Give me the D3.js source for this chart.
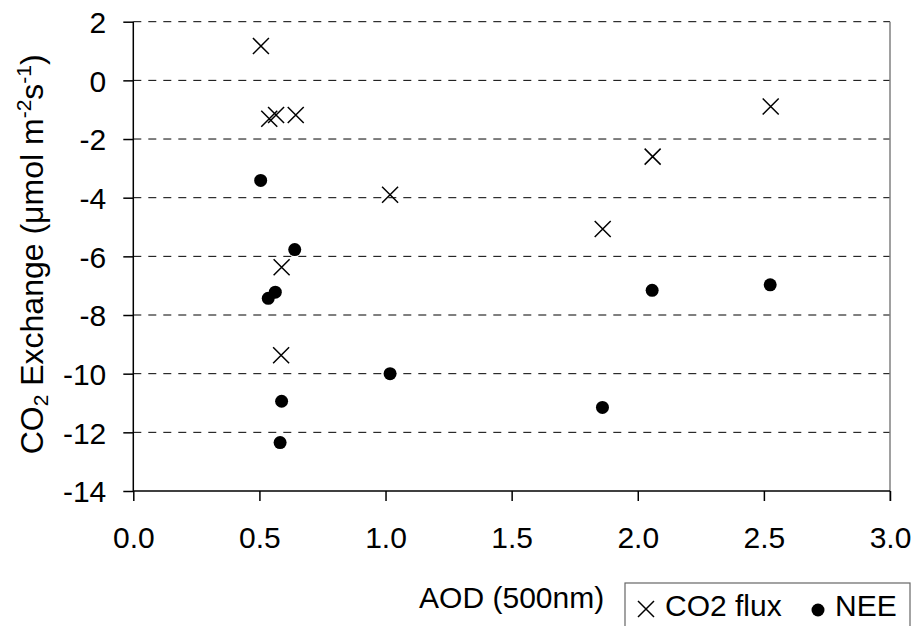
<!DOCTYPE html>
<html>
<head>
<meta charset="utf-8">
<script src="https://cdn.jsdelivr.net/npm/d3@7"></script>
<style>
  body { margin: 0; background: #fff; }
  svg text { font-family: "Liberation Sans", Arial, sans-serif; fill: #000; }
</style>
</head>
<body>
<svg id="chart" width="915" height="626"></svg>
<script>
// values
var aodFlux = [0.506, 0.539, 0.566, 0.644, 0.588, 0.586, 1.018, 1.861, 2.059, 2.527];
var co2Flux = [1.17, -1.31, -1.18, -1.18, -6.37, -9.37, -3.9, -5.07, -2.6, -0.89];

var aodNee = [0.505, 0.64, 0.563, 0.535, 0.588, 0.582, 1.018, 1.86, 2.057, 2.525];
var nee    = [-3.41, -5.77, -7.22, -7.43, -10.94, -12.35, -10.0, -11.15, -7.16, -6.97];

var xTicks = [0, 0.5, 1, 1.5, 2, 2.5, 3];
var yTicks = [2, 0, -2, -4, -6, -8, -10, -12, -14];

var margin = {left: 133.3, top: 21.7, right: 890, bottom: 491};

var svg = d3.select('#chart');

var x = d3.scaleLinear().domain([0, 3]).range([margin.left, margin.right]);
var y = d3.scaleLinear().domain([-14, 2]).range([margin.bottom, margin.top]);

// dashed grid lines
svg.append('g').selectAll('line').data(yTicks.filter(function(d) { return d > -14; }))
  .enter().append('line')
  .attr('x1', margin.left).attr('x2', margin.right)
  .attr('y1', function(d) { return y(d); })
  .attr('y2', function(d) { return y(d); })
  .style('stroke', '#000')
  .style('stroke-width', 1)
  .style('stroke-dasharray', '8,7');

// right border of plot area
svg.append('line')
  .attr('x1', margin.right).attr('x2', margin.right)
  .attr('y1', margin.top).attr('y2', margin.bottom + 10)
  .style('stroke', '#808080')
  .style('stroke-width', 1.5);

// axes (plain hyphen for negatives, like the original)
var yAxis = d3.axisLeft(y).tickValues(yTicks).tickSize(10).tickPadding(17)
  .tickFormat(function(d) { return String(d); });
var xAxis = d3.axisBottom(x).tickValues(xTicks).tickSize(10).tickPadding(26)
  .tickFormat(function(d) { return d.toFixed(1); });

var gy = svg.append('g').attr('transform', 'translate(' + margin.left + ',0)').call(yAxis);
var gx = svg.append('g').attr('transform', 'translate(0,' + margin.bottom + ')').call(xAxis);

[gx, gy].forEach(function(g) {
  g.select('.domain').style('stroke', '#000').style('stroke-width', 1.5);
  g.selectAll('.tick line').style('stroke', '#000').style('stroke-width', 1.5);
  g.selectAll('.tick text').style('font-size', '30px').style('font-family', '"Liberation Sans", Arial, sans-serif');
});
gy.select('.domain').attr('d', 'M0,' + margin.top + 'V' + margin.bottom);
gx.select('.domain').attr('d', 'M' + margin.left + ',0H' + margin.right);
gy.selectAll('.tick text').attr('dy', '0.36em');

// cross markers for CO2 flux
var crossPath = function(s) {
  return 'M' + (-s) + ',' + (-s) + 'L' + s + ',' + s + 'M' + (-s) + ',' + s + 'L' + s + ',' + (-s);
};

var fluxData = aodFlux.map(function(a, i) { return {aod: a, val: co2Flux[i]}; });
var neeData = aodNee.map(function(a, i) { return {aod: a, val: nee[i]}; });

svg.append('g').selectAll('path').data(fluxData)
  .enter().append('path')
  .attr('d', crossPath(8))
  .attr('transform', function(d) { return 'translate(' + x(d.aod) + ',' + y(d.val) + ')'; })
  .style('stroke', '#000')
  .style('stroke-width', 1.5)
  .style('fill', 'none');

svg.append('g').selectAll('circle').data(neeData)
  .enter().append('circle')
  .attr('r', 6.5)
  .attr('cx', function(d) { return x(d.aod); })
  .attr('cy', function(d) { return y(d.val); })
  .style('fill', '#000');

// axis titles
svg.append('text')
  .attr('x', (margin.left + margin.right) / 2)
  .attr('y', 608)
  .attr('text-anchor', 'middle')
  .style('font-size', '30px')
  .text('AOD (500nm)');

var yt = svg.append('text')
  .attr('transform', 'translate(43,' + ((margin.top + margin.bottom) / 2 - 2) + ') rotate(-90)')
  .attr('text-anchor', 'middle')
  .style('font-size', '32px');
yt.append('tspan').text('CO');
yt.append('tspan').text('2').style('font-size', '21px').attr('dy', 5);
yt.append('tspan').text(' Exchange (\u03bcmol m').attr('dy', -5);
yt.append('tspan').text('-2').style('font-size', '21px').attr('dy', -12);
yt.append('tspan').text('s').attr('dy', 12);
yt.append('tspan').text('-1').style('font-size', '21px').attr('dy', -12);
yt.append('tspan').text(')').attr('dy', 12);

// legend
var lg = svg.append('g');
lg.append('rect')
  .attr('x', 625).attr('y', 583).attr('width', 285).attr('height', 60)
  .style('fill', '#fff').style('stroke', '#666').style('stroke-width', 1.2);
lg.append('path')
  .attr('d', crossPath(8))
  .attr('transform', 'translate(646,609)')
  .style('stroke', '#000').style('stroke-width', 1.5).style('fill', 'none');
lg.append('text').attr('x', 665).attr('y', 616).style('font-size', '30px').text('CO2 flux');
lg.append('circle').attr('cx', 818).attr('cy', 610).attr('r', 6.5).style('fill', '#000');
lg.append('text').attr('x', 835).attr('y', 616).style('font-size', '30px').text('NEE');
</script>
</body>
</html>
